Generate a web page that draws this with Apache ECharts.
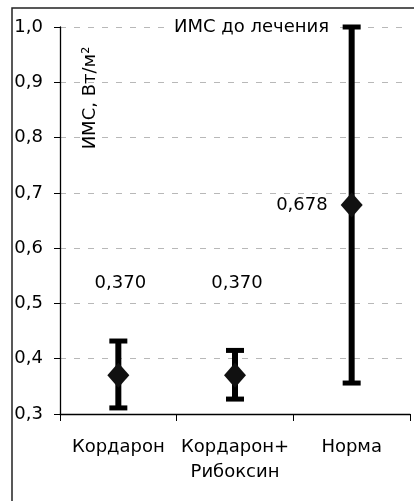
<!DOCTYPE html>
<html><head><meta charset="utf-8">
<script src="https://cdn.jsdelivr.net/npm/echarts@6/dist/echarts.min.js"></script>
<style>html,body{margin:0;padding:0;background:#fff}#c{width:414px;height:501px}</style>
</head><body><div id="c"></div>
<script>
var categories = ['Кордарон', 'Кордарон+\nРибоксин', 'Норма'];
var means = [0.370, 0.370, 0.678];
var lows = [0.311, 0.327, 0.356];
var highs = [0.432, 0.415, 1.0];
var yTicks = {min: 0.3, max: 1.0, interval: 0.1};
var titleText = 'ИМС до лечения';
var yName = 'ИМС, Вт/м²';
var FONT = 'DejaVu Sans';

function fmt(v, d) { return v.toFixed(d).replace('.', ','); }

var chart = echarts.init(document.getElementById('c'), null, {renderer: 'canvas'});
var errData = categories.map(function (c, i) { return [i, lows[i], highs[i]]; });
var meanData = categories.map(function (c, i) {
  var item = {value: [i, means[i]]};
  if (i === 2) item.label = {position: 'left', distance: 13, offset: [0, 0]};
  return item;
});

chart.setOption({
  animation: false,
  backgroundColor: '#fff',
  title: {
    text: titleText, left: 168, top: 17,
    padding: [0, 6, 0, 6],
    backgroundColor: '#fff',
    textStyle: {fontFamily: FONT, fontSize: 18, fontWeight: 'normal', color: '#000', lineHeight: 21}
  },
  grid: {left: 60, right: 4, top: 27, bottom: 87, containLabel: false},
  xAxis: {
    type: 'category', data: categories, boundaryGap: true,
    axisLine: {lineStyle: {color: '#000', width: 1.3}},
    axisTick: {show: true, alignWithLabel: false, length: 7, lineStyle: {color: '#000', width: 1}},
    axisLabel: {interval: 0, margin: 21, fontFamily: FONT, fontSize: 18, color: '#000', lineHeight: 25},
    splitLine: {show: false}
  },
  yAxis: {
    type: 'value', min: yTicks.min, max: yTicks.max, interval: yTicks.interval,
    axisLine: {show: true, lineStyle: {color: '#000', width: 1.3}},
    axisTick: {show: true, length: 6, lineStyle: {color: '#000', width: 1}},
    axisLabel: {margin: 17, fontFamily: FONT, fontSize: 18, color: '#000', formatter: function (v) { return fmt(v, 1); }},
    splitLine: {show: true, lineStyle: {color: '#b8b8b8', type: [6, 8], width: 1}}
  },
  graphic: [
    {type: 'rect', shape: {x: 12, y: 8, width: 420, height: 520}, style: {fill: 'none', stroke: '#222', lineWidth: 1.5}, silent: true, z: 100},
    {type: 'text', x: 90, y: 98, rotation: Math.PI / 2,
     style: {text: yName, font: '18px "' + FONT + '"', fill: '#000', textAlign: 'center', textVerticalAlign: 'middle'}, z: 50}
  ],
  series: [
    {
      type: 'custom', data: errData, z: 2,
      renderItem: function (params, api) {
        var x = api.value(0);
        var lo = api.coord([x, api.value(1)]);
        var hi = api.coord([x, api.value(2)]);
        var hw = 9;
        var stem = {stroke: '#000', lineWidth: 6};
        var cap = {stroke: '#000', lineWidth: 5};
        return {type: 'group', children: [
          {type: 'line', shape: {x1: lo[0], y1: lo[1], x2: hi[0], y2: hi[1]}, style: stem},
          {type: 'line', shape: {x1: lo[0] - hw, y1: lo[1], x2: lo[0] + hw, y2: lo[1]}, style: cap},
          {type: 'line', shape: {x1: hi[0] - hw, y1: hi[1], x2: hi[0] + hw, y2: hi[1]}, style: cap}
        ]};
      }
    },
    {
      type: 'scatter', data: meanData, z: 5,
      symbol: 'diamond', symbolSize: [22, 25],
      itemStyle: {color: '#111', opacity: 1},
      emphasis: {disabled: true},
      label: {
        show: true, position: 'inside', offset: [2, -92],
        fontFamily: FONT, fontSize: 18, color: '#000',
        formatter: function (p) { return fmt(p.value[1], 3); }
      }
    }
  ]
});
</script>
</body></html>
